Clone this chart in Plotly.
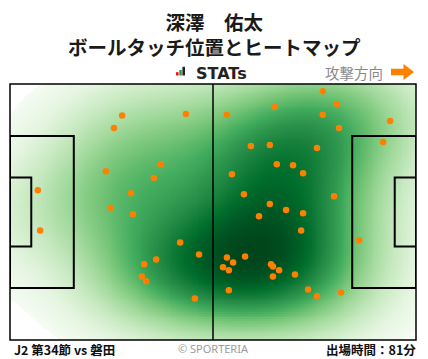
import numpy as np
import plotly.graph_objects as go

# ---------------- data ----------------
player_name = "深澤　佑太"
chart_title = "ボールタッチ位置とヒートマップ"
match_label = "J2 第34節 vs 磐田"
minutes_label = "出場時間：81分"
direction_label = "攻撃方向"

# ball touch positions in metres (pitch 105 x 68, attacking left -> right)
touch_x = [29.0, 45.5, 26.9, 39.0, 24.8, 37.2, 7.2, 31.3, 26.1, 31.8,
           7.8, 44.0, 48.9, 37.8, 34.7, 34.1, 35.2, 47.8, 80.9, 84.6,
           68.5, 56.1, 80.9, 98.3, 85.1, 96.5, 62.3, 67.2, 79.4, 69.0,
           73.2, 75.8, 57.4, 60.5, 67.2, 83.8, 71.4, 64.4, 75.8, 75.3,
           90.3, 56.1, 60.8, 57.7, 55.1, 56.6, 67.5, 68.0, 69.6, 68.0,
           73.7, 56.6, 77.1, 79.4, 85.6]
touch_y = [59.6, 60.0, 56.3, 46.7, 44.8, 43.0, 39.8, 39.0, 35.1, 33.4,
           29.1, 25.9, 22.7, 21.4, 20.1, 16.9, 15.6, 11.0, 66.1, 62.7,
           61.9, 59.8, 59.8, 58.2, 56.3, 52.6, 51.5, 51.8, 51.0, 46.7,
           46.4, 44.3, 44.0, 38.7, 36.1, 38.2, 34.5, 32.9, 33.7, 29.1,
           26.5, 21.9, 22.2, 20.6, 19.3, 18.5, 20.1, 19.5, 18.5, 16.9,
           17.4, 13.2, 13.4, 11.6, 12.6]

PITCH_L, PITCH_W = 105.0, 68.0
BW_ADJUST = 1.3
THRESH_REL = 0.033
GAMMA = 0.68

# ---------------- kernel density of the touches ----------------
pts = np.vstack([touch_x, touch_y])
n = pts.shape[1]
cov = np.cov(pts) * (n ** (-1.0 / 6.0) * BW_ADJUST) ** 2
inv = np.linalg.inv(cov)


def kde(X, Y):
    dx = X[..., None] - pts[0]
    dy = Y[..., None] - pts[1]
    q = inv[0, 0] * dx * dx + 2 * inv[0, 1] * dx * dy + inv[1, 1] * dy * dy
    return np.exp(-0.5 * q).sum(-1)


# mass distribution on a wide grid -> iso-proportion colouring
wx, wy = np.meshgrid(np.arange(-50, 155, 1.0), np.arange(-50, 118, 1.0))
wd = np.sort(kde(wx, wy).ravel())
wcum = np.cumsum(wd) / wd.sum()

step = 0.5
gx = np.arange(step / 2, PITCH_L, step)
gy = np.arange(step / 2, PITCH_W, step)
GX, GY = np.meshgrid(gx, gy)
Z = kde(GX, GY)
thr = THRESH_REL * Z.max()


def mass_below(d):
    idx = np.clip(np.searchsorted(wd, d), 0, len(wd) - 1)
    return wcum[idx]


F = mass_below(Z)
F0 = mass_below(np.array([thr]))[0]
Zn = np.clip((F - F0) / (1 - F0), 0, 1) ** GAMMA
Zn = np.round(Zn, 3)
Zn[Z < thr] = np.nan

greens = [[0.0, "#f7fcf5"], [0.125, "#e5f5e0"], [0.25, "#c7e9c0"],
          [0.375, "#a1d99b"], [0.5, "#74c476"], [0.625, "#41ab5d"],
          [0.75, "#238b45"], [0.875, "#006d2c"], [1.0, "#00441b"]]

# ---------------- figure ----------------
W, H = 428, 359
ML, MR, MT, MB = 10, 12, 84, 19
PW, PH = W - ML - MR, H - MT - MB


def px(x):
    return (x - ML) / PW


def py(y):
    return (H - MB - y) / PH


fig = go.Figure()
fig.add_trace(go.Heatmap(x=gx, y=gy, z=Zn, colorscale=greens, zmin=0, zmax=1,
                         showscale=False, hoverinfo="skip", zsmooth=False))
fig.add_trace(go.Scatter(x=touch_x, y=touch_y, mode="markers",
                         marker=dict(size=6.5, color="#ff8000", line=dict(width=0)),
                         hoverinfo="skip", showlegend=False))

line = dict(color="black", width=2)
shapes = [
    dict(type="rect", xref="paper", yref="paper", x0=0, x1=1, y0=0, y1=1,
         line=dict(color="black", width=1.5)),
    dict(type="line", x0=PITCH_L / 2, x1=PITCH_L / 2, y0=0, y1=PITCH_W,
         line=dict(color="black", width=1.5)),
    dict(type="rect", x0=0, x1=16.5, y0=13.84, y1=54.16, line=line),
    dict(type="rect", x0=PITCH_L - 16.5, x1=PITCH_L, y0=13.84, y1=54.16, line=line),
    dict(type="rect", x0=0, x1=5.5, y0=24.84, y1=43.16, line=line),
    dict(type="rect", x0=PITCH_L - 5.5, x1=PITCH_L, y0=24.84, y1=43.16, line=line),
]

# STATs logo bars
for (x0, x1, y0, col) in [(176, 178.6, 72.2, "#e8141c"), (179.3, 181.8, 70, "#16a34a"),
                          (182.4, 185, 66.8, "#222222")]:
    shapes.append(dict(type="rect", xref="paper", yref="paper",
                       x0=px(x0), x1=px(x1), y0=py(75.5), y1=py(y0),
                       line=dict(width=0), fillcolor=col))

# direction arrow
arrow = [(391, 68.8), (403.5, 68.8), (403.5, 64), (414, 72), (403.5, 80),
         (403.5, 75.2), (391, 75.2)]
path = "M " + " L ".join(f"{px(a):.4f},{py(b):.4f}" for a, b in arrow) + " Z"
shapes.append(dict(type="path", xref="paper", yref="paper", path=path,
                   line=dict(width=0), fillcolor="#ff8000"))

CJK = "Noto Sans CJK JP"
ann = [
    dict(text=f"<b>{player_name}</b><br><b>{chart_title}</b>", x=px(214), y=py(33.5),
         font=dict(size=19.5, color="#1a1a1a", family=CJK), xanchor="center",
         yanchor="middle", align="center"),
    dict(text="<b>STATs</b>", x=px(194), y=py(73),
         font=dict(size=16, color="#222222", family="DejaVu Sans"), xanchor="left", yanchor="middle"),
    dict(text=direction_label, x=px(385), y=py(72),
         font=dict(size=14.5, color="#8a8a8a", family=CJK), xanchor="right", yanchor="middle"),
    dict(text=f"<b>{match_label}</b>", x=px(12), y=py(349),
         font=dict(size=12.5, color="#111111", family=CJK), xanchor="left", yanchor="middle"),
    dict(text="© SPORTERIA", x=px(213), y=py(348),
         font=dict(size=11, color="#9a9a9a", family="Noto Sans"), xanchor="center", yanchor="middle"),
    dict(text=f"<b>{minutes_label}</b>", x=px(418), y=py(349),
         font=dict(size=12.5, color="#111111", family=CJK), xanchor="right", yanchor="middle"),
]
for a in ann:
    a.update(xref="paper", yref="paper", showarrow=False)

fig.update_layout(
    width=W, height=H, autosize=False,
    margin=dict(l=ML, r=MR, t=MT, b=MB, pad=0),
    paper_bgcolor="white", plot_bgcolor="white",
    xaxis=dict(range=[0, PITCH_L], visible=False, fixedrange=True),
    yaxis=dict(range=[0, PITCH_W], visible=False, fixedrange=True),
    shapes=shapes, annotations=ann, showlegend=False,
)
fig.write_html("out.html", config={"displayModeBar": False},
               post_script="document.body.style.margin='0px';")
